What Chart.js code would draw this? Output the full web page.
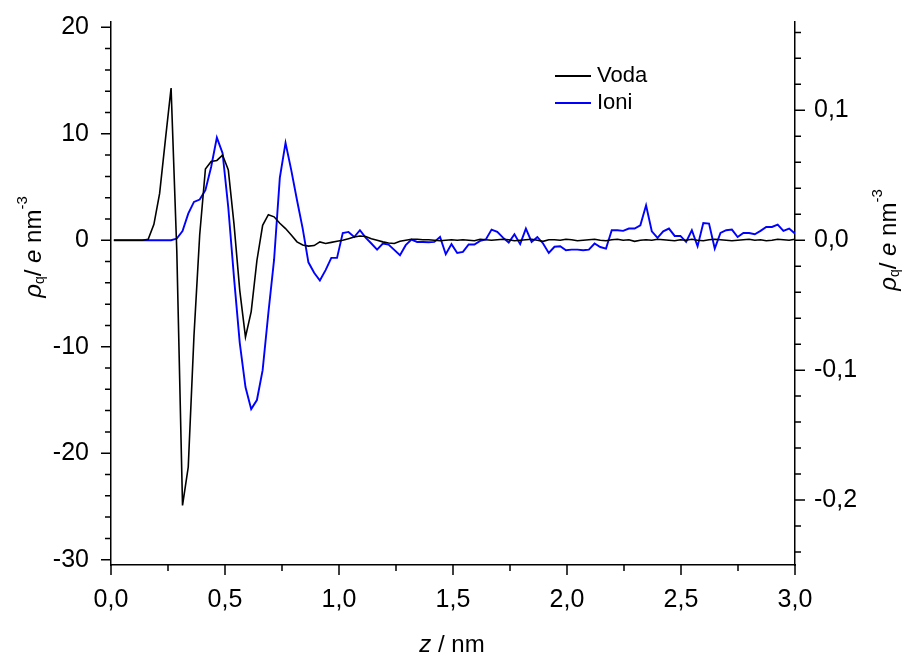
<!DOCTYPE html>
<html>
<head>
<meta charset="utf-8">
<script src="https://cdn.jsdelivr.net/npm/chart.js@4.4.1/dist/chart.umd.min.js"></script>
<style>
  html, body { margin: 0; padding: 0; background: #fff; }
  canvas { display: block; }
</style>
</head>
<body>
<canvas id="chart" width="907" height="659"></canvas>
<script>
// bin centres along z (nm)
const zPos = [
  0.0125, 0.0376, 0.0627, 0.0878, 0.1129, 0.1380, 0.1631, 0.1882, 0.2133, 0.2384,
  0.2635, 0.2886, 0.3137, 0.3388, 0.3639, 0.3890, 0.4141, 0.4392, 0.4643, 0.4894,
  0.5145, 0.5396, 0.5647, 0.5898, 0.6149, 0.6400, 0.6651, 0.6902, 0.7153, 0.7404,
  0.7655, 0.7906, 0.8157, 0.8408, 0.8659, 0.8910, 0.9161, 0.9412, 0.9663, 0.9914,
  1.0165, 1.0416, 1.0667, 1.0918, 1.1169, 1.1420, 1.1671, 1.1922, 1.2173, 1.2424,
  1.2675, 1.2926, 1.3177, 1.3428, 1.3679, 1.3930, 1.4181, 1.4432, 1.4683, 1.4934,
  1.5185, 1.5436, 1.5687, 1.5938, 1.6189, 1.6440, 1.6691, 1.6942, 1.7193, 1.7444,
  1.7695, 1.7946, 1.8197, 1.8448, 1.8699, 1.8950, 1.9201, 1.9452, 1.9703, 1.9954,
  2.0205, 2.0456, 2.0707, 2.0958, 2.1209, 2.1460, 2.1711, 2.1962, 2.2213, 2.2464,
  2.2715, 2.2966, 2.3217, 2.3468, 2.3719, 2.3970, 2.4221, 2.4472, 2.4723, 2.4974,
  2.5225, 2.5476, 2.5727, 2.5978, 2.6229, 2.6480, 2.6731, 2.6982, 2.7233, 2.7484,
  2.7735, 2.7986, 2.8237, 2.8488, 2.8739, 2.8990, 2.9241, 2.9492, 2.9743, 2.9994
];

// water charge density, left axis (e nm^-3)
const voda = [
  0, 0, 0, 0, 0, 0, 0.1, 1.5, 4.4, 9.4,
  14.3, -1.0, -24.9, -21.3, -9.0, 0.5, 6.7, 7.4, 7.5, 8.0,
  6.6, 1.5, -4.7, -9.1, -6.7, -1.9, 1.4, 2.4, 2.2, 1.6,
  1.1, 0.5, -0.15, -0.45, -0.55, -0.5, -0.15, -0.3, -0.2, -0.1,
  0.0, 0.15, 0.3, 0.4, 0.35, 0.15, 0.0, -0.15, -0.25, -0.3,
  -0.1, 0.0, 0.1, 0.1, 0.05, 0.05, 0.0, -0.05, 0.0, 0.05,
  0.0, 0.05, 0.0, -0.05, 0.1, 0.05, 0.0, 0.05, 0.1, 0.05,
  -0.05, 0.0, 0.05, 0.1, 0.0, -0.1, 0.05, 0.05, 0.0, 0.1,
  0.05, -0.05, 0.0, 0.05, 0.1, 0.0, -0.05, 0.05, 0.1, 0.0,
  0.05, -0.1, 0.0, 0.05, 0.0, 0.1, 0.05, 0.0, -0.05, 0.05,
  0.0, 0.1, 0.0, -0.05, 0.05, 0.1, 0.05, 0.0, -0.05, 0.0,
  0.05, 0.1, 0.0, 0.05, -0.05, 0.0, 0.1, 0.05, 0.0, 0.1
];

// ion charge density, right axis (e nm^-3)
const ioni = [
  0, 0, 0, 0, 0, 0, 0, 0, 0, 0,
  0, 0.0013, 0.007, 0.0205, 0.0295, 0.0313, 0.0385, 0.0564, 0.079, 0.067,
  0.025, -0.029, -0.079, -0.113, -0.130, -0.123, -0.100, -0.056, -0.015, 0.048,
  0.075, 0.054, 0.031, 0.009, -0.017, -0.025, -0.031, -0.023, -0.0136, -0.0136,
  0.0056, 0.0064, 0.0025, 0.0077, 0.002, -0.0025, -0.0072, -0.0025, -0.0033, -0.0074,
  -0.0115, -0.0038, 0.0005, -0.0013, -0.0013, -0.0015, -0.0013, 0.0025, -0.0108, -0.003,
  -0.0098, -0.009, -0.0033, -0.0033, -0.0005, 0.0006, 0.0082, 0.0064, 0.002, -0.0018,
  0.0046, -0.003, 0.009, -0.0013, 0.0025, -0.0025, -0.0098, -0.005, -0.0046, -0.0077,
  -0.0072, -0.0072, -0.0077, -0.0072, -0.0025, -0.0052, -0.0064, 0.0077, 0.0077, 0.0072,
  0.009, 0.009, 0.0115, 0.0269, 0.0069, 0.0018, 0.0069, 0.009, 0.0033, 0.0033,
  -0.0013, 0.0077, -0.0046, 0.0133, 0.0128, -0.0064, 0.0056, 0.0077, 0.0082, 0.0025,
  0.0056, 0.0056, 0.0046, 0.0072, 0.0102, 0.0102, 0.0121, 0.0072, 0.009, 0.0052
];

const seriesNames = ['Voda', 'Ioni'];
const seriesColors = ['#000000', '#0000ff'];

const FONT = "'Liberation Sans', Arial, sans-serif";

function isMult(v, step) {
  const r = v / step;
  return Math.abs(r - Math.round(r)) < 1e-6;
}
function comma(v) {
  return v.toFixed(1).replace('.', ',');
}

// draws text made of runs (italic, sub, sup), centred at cx,cy
function drawRich(ctx, runs, cx, cy, rot) {
  ctx.save();
  ctx.translate(cx, cy);
  ctx.rotate(rot);
  ctx.textBaseline = 'middle';
  ctx.textAlign = 'left';
  let total = 0;
  runs.forEach(r => { ctx.font = r.font; r.w = ctx.measureText(r.t).width; total += r.w; });
  let x = -total / 2;
  runs.forEach(r => {
    ctx.font = r.font;
    ctx.fillText(r.t, x, r.dy || 0);
    x += r.w;
  });
  ctx.restore();
}

const rhoRuns = () => [
  { t: '\u03C1', font: 'italic 24px ' + FONT },
  { t: 'q', font: '14px ' + FONT, dy: 6 },
  { t: '/ ', font: '24px ' + FONT },
  { t: 'e', font: 'italic 24px ' + FONT },
  { t: ' nm', font: '24px ' + FONT },
  { t: '-3', font: '15px ' + FONT, dy: -11 }
];

const extras = {
  id: 'extras',
  afterDraw(chart) {
    const ctx = chart.ctx;
    const xs = chart.scales.x, yl = chart.scales.y, yr = chart.scales.y2;
    const area = chart.chartArea;
    ctx.save();
    ctx.strokeStyle = '#000';
    ctx.lineWidth = 1.5;
    ctx.beginPath();
    xs.ticks.forEach(t => {
      const p = xs.getPixelForValue(t.value);
      const len = isMult(t.value, 0.5) ? 10 : 6;
      ctx.moveTo(p, area.bottom); ctx.lineTo(p, area.bottom + len);
    });
    yl.ticks.forEach(t => {
      const p = yl.getPixelForValue(t.value);
      const len = isMult(t.value, 10) ? 10 : 6;
      ctx.moveTo(area.left, p); ctx.lineTo(area.left - len, p);
    });
    yr.ticks.forEach(t => {
      const p = yr.getPixelForValue(t.value);
      const len = isMult(t.value, 0.1) ? 10 : 6;
      ctx.moveTo(area.right, p); ctx.lineTo(area.right + len, p);
    });
    ctx.stroke();

    // legend
    const legY = [76, 103];
    seriesNames.forEach((name, k) => {
      ctx.strokeStyle = seriesColors[k];
      ctx.lineWidth = 2;
      ctx.beginPath();
      ctx.moveTo(555, legY[k]); ctx.lineTo(591, legY[k]);
      ctx.stroke();
      ctx.fillStyle = '#000';
      ctx.font = '22px ' + FONT;
      ctx.textBaseline = 'middle';
      ctx.textAlign = 'left';
      ctx.fillText(name, 597, legY[k]);
    });

    // axis titles
    ctx.fillStyle = '#000';
    drawRich(ctx, [
      { t: 'z', font: 'italic 24px ' + FONT },
      { t: ' / nm', font: '24px ' + FONT }
    ], 452, 645, 0);
    drawRich(ctx, rhoRuns(), 34, 247, -Math.PI / 2);
    drawRich(ctx, rhoRuns(), 889, 240, -Math.PI / 2);
    ctx.restore();
  }
};

const tickFont = { family: FONT, size: 25 };

// fixed box sizes so the plot frame sits where the original has it
function fixY(width) {
  return s => { s.width = width; s.paddingTop = 0; s.paddingBottom = 0; };
}

new Chart(document.getElementById('chart'), {
  type: 'line',
  data: {
    datasets: [
      {
        label: seriesNames[0],
        data: zPos.map((z, k) => ({ x: z, y: voda[k] })),
        borderColor: seriesColors[0],
        borderWidth: 1.6,
        pointRadius: 0,
        tension: 0,
        yAxisID: 'y'
      },
      {
        label: seriesNames[1],
        data: zPos.map((z, k) => ({ x: z, y: ioni[k] })),
        borderColor: seriesColors[1],
        borderWidth: 1.9,
        pointRadius: 0,
        tension: 0,
        yAxisID: 'y2'
      }
    ]
  },
  options: {
    responsive: false,
    animation: false,
    layout: { padding: { top: 22, left: 0, right: 0, bottom: 0 } },
    plugins: { legend: { display: false }, tooltip: { enabled: false } },
    scales: {
      x: {
        type: 'linear',
        min: 0,
        max: 3,
        afterFit: s => { s.height = 94; s.paddingLeft = 0; s.paddingRight = 0; },
        grid: { display: false },
        border: { display: true, color: '#000', width: 1.5 },
        ticks: {
          stepSize: 0.25,
          autoSkip: false,
          maxRotation: 0,
          includeBounds: false,
          padding: 12,
          color: '#000',
          font: tickFont,
          callback: v => isMult(v, 0.5) ? comma(v) : ''
        }
      },
      y: {
        type: 'linear',
        position: 'left',
        min: -30.5,
        max: 20.5,
        afterFit: fixY(111),
        grid: { display: false },
        border: { display: true, color: '#000', width: 1.5 },
        ticks: {
          stepSize: 2,
          autoSkip: false,
          includeBounds: false,
          padding: 14,
          color: '#000',
          font: tickFont,
          callback: v => isMult(v, 10) ? String(Math.round(v)) : ''
        }
      },
      y2: {
        type: 'linear',
        position: 'right',
        min: -0.25,
        max: 0.168,
        afterFit: fixY(112),
        grid: { display: false },
        border: { display: true, color: '#000', width: 1.5 },
        ticks: {
          stepSize: 0.02,
          autoSkip: false,
          includeBounds: false,
          padding: 11,
          color: '#000',
          font: tickFont,
          callback: v => isMult(v, 0.1) ? comma(v) : ''
        }
      }
    }
  },
  plugins: [extras]
});
</script>
</body>
</html>
